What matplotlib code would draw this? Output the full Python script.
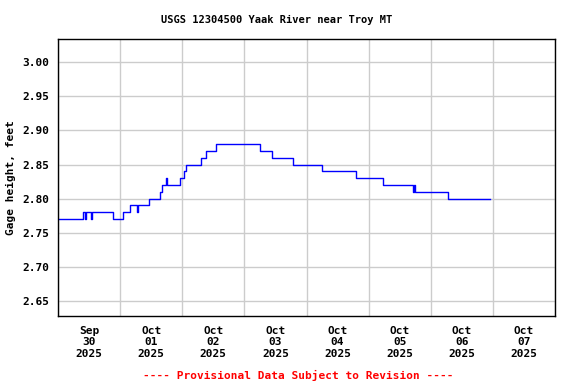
import matplotlib
matplotlib.use("Agg")
import matplotlib.pyplot as plt
import matplotlib.dates as mdates
import pandas as pd

# gage height readings (hours after 2025-09-30 00:00, feet), step changes only
hours = [0, 9.5, 10.25, 10.75, 12.75, 13.0, 21.25, 25.25, 28.0, 30.5, 30.75,
         35.0, 39.25, 40.0, 41.75, 42.25, 47.0, 48.5, 49.5, 55.25, 57.25,
         61.0, 78.0, 82.75, 90.75, 102.0, 115.0, 125.5, 137.25, 137.5, 138.0,
         150.75, 167.0]
levels = [2.77, 2.78, 2.77, 2.78, 2.77, 2.78, 2.77, 2.78, 2.79, 2.78, 2.79,
          2.80, 2.81, 2.82, 2.83, 2.82, 2.83, 2.84, 2.85, 2.86, 2.87,
          2.88, 2.87, 2.86, 2.85, 2.84, 2.83, 2.82, 2.81, 2.82, 2.81,
          2.80, 2.80]
yticks = [2.65, 2.70, 2.75, 2.80, 2.85, 2.90, 2.95, 3.00]

start = pd.Timestamp("2025-09-30")
times = start + pd.to_timedelta(hours, unit="h")

font = "DejaVu Sans Mono"
fig = plt.figure(figsize=(5.76, 3.84), dpi=100)
ax = fig.add_axes([58 / 576, 1 - 316 / 384, 497 / 576, 277 / 384])

ax.plot(times, levels, color="#0000ff", linewidth=1, drawstyle="steps-post")

ax.set_xlim(start, start + pd.Timedelta(days=8))
ax.set_ylim(2.628, 3.034)
ax.set_yticks(yticks)
ax.set_yticklabels([f"{v:.2f}" for v in yticks], fontfamily=font,
                   fontweight="bold", fontsize=8)

ax.xaxis.set_major_locator(mdates.DayLocator())
ax.xaxis.set_major_formatter(plt.NullFormatter())
ax.xaxis.set_minor_locator(mdates.HourLocator(byhour=12))
ax.xaxis.set_minor_formatter(mdates.DateFormatter("%b\n%d\n%Y"))
for lbl in ax.xaxis.get_minorticklabels():
    lbl.set_fontfamily(font)
    lbl.set_fontweight("bold")
    lbl.set_fontsize(8)
    lbl.set_linespacing(1.2)

ax.tick_params(axis="both", which="both", length=0)
ax.tick_params(axis="x", which="minor", pad=7)
ax.tick_params(axis="y", pad=6)
ax.grid(True, which="major", color="#cccccc", linewidth=1)
ax.set_axisbelow(True)
for s in ax.spines.values():
    s.set_color("black")
    s.set_linewidth(1)

fig.text(277 / 576, 1 - 20 / 384, "USGS 12304500 Yaak River near Troy MT",
         ha="center", va="center", fontfamily=font, fontweight="bold", fontsize=7.5)
fig.text(11 / 576, 1 - 178 / 384, "Gage height, feet", rotation=90,
         ha="center", va="center", fontfamily=font, fontweight="bold", fontsize=8)
fig.text(298 / 576, 1 - 375 / 384, "---- Provisional Data Subject to Revision ----",
         ha="center", va="center", color="red", fontfamily=font,
         fontweight="bold", fontsize=8)

fig.savefig("out.png", dpi=100)
